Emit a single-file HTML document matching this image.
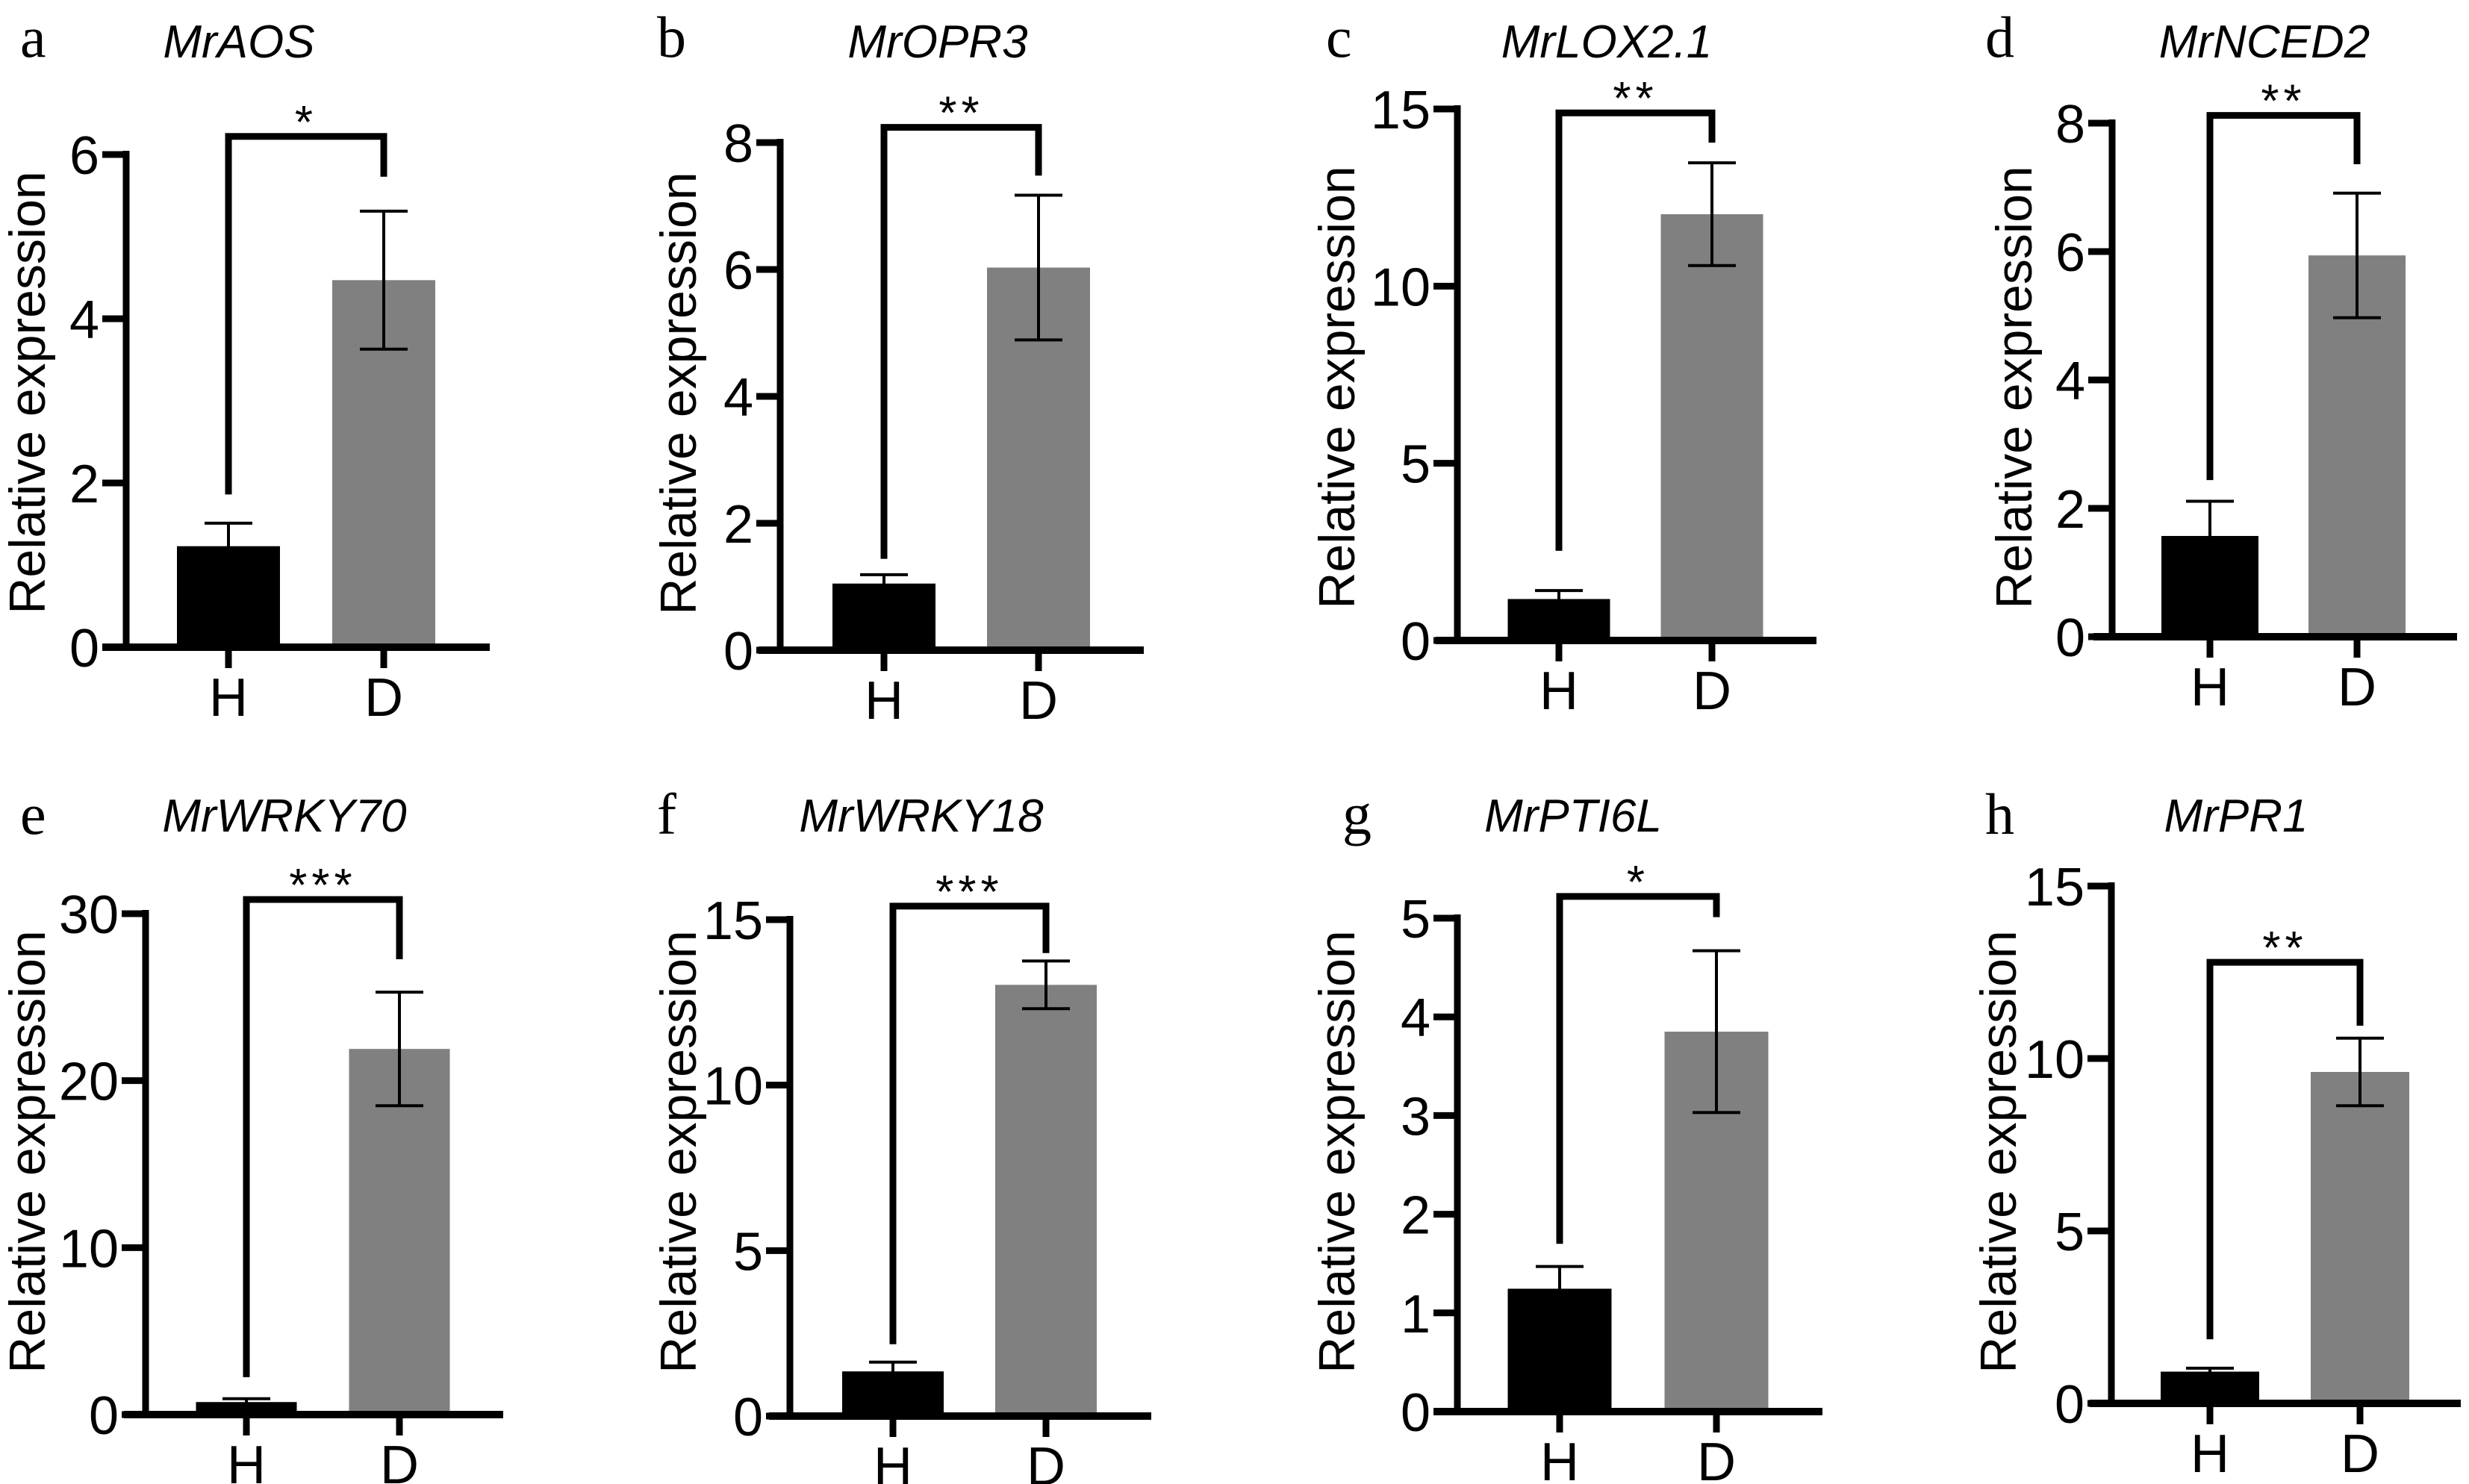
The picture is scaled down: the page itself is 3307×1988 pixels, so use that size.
<!DOCTYPE html>
<html><head><meta charset="utf-8"><style>
html,body{margin:0;padding:0;background:#fff;}
svg{display:block;}
</style></head><body>
<svg id="fig" xmlns="http://www.w3.org/2000/svg" width="3307" height="1988" viewBox="0 0 3307 1988"></svg>
<script>
// ---- data ----
const panelLetters = ["a","b","c","d","e","f","g","h"];
const genes = ["MrAOS","MrOPR3","MrLOX2.1","MrNCED2","MrWRKY70","MrWRKY18","MrPTI6L","MrPR1"];
const categories = ["H","D"];
const hValues = [1.23, 1.05, 1.17, 1.57, 0.75, 1.35, 1.245, 0.92];
const hErrors = [0.28, 0.14, 0.24, 0.54, 0.20, 0.28, 0.225, 0.10];
const dValues = [4.47, 6.03, 12.03, 5.94, 21.9, 13.03, 3.85, 9.61];
const dErrors = [0.84, 1.14, 1.45, 0.97, 3.4, 0.72, 0.82, 0.98];
const yMax = [6, 8, 15, 8, 30, 15, 5, 15];
const yStep = [2, 2, 5, 2, 10, 5, 1, 5];
const sigLabels = ["*","**","**","**","***","***","*","**"];
const bracketTop = [6.22, 8.24, 14.89, 8.12, 30.85, 15.41, 5.22, 12.79];
const bracketLeftEnd = [1.86, 1.44, 2.53, 2.44, 2.24, 2.17, 1.70, 1.86];
const bracketRightEnd = [5.73, 7.48, 14.05, 7.36, 27.27, 13.99, 5.01, 10.95];

// ---- layout (pixels) ----
const layout = [
 {ax:169, y0:867, yt:207, xs:137, xe:656, hc:306, dc:514, bw:138, lx:60, ly:526, tx:320, ty:77, px:27, py:76},
 {ax:1045,y0:871, yt:191, xs:1016,xe:1532,hc:1184,dc:1391,bw:138, lx:932, ly:527, tx:1256,ty:77, px:880, py:76},
 {ax:1952,y0:858, yt:146, xs:1923,xe:2433,hc:2088,dc:2293,bw:137, lx:1814,ly:519, tx:2152,ty:77, px:1776,py:76},
 {ax:2829,y0:853, yt:165, xs:2804,xe:3291,hc:2960,dc:3157,bw:130, lx:2721,ly:519, tx:3033,ty:77, px:2659,py:76},
 {ax:195, y0:1895,yt:1224,xs:166, xe:674, hc:330, dc:535, bw:135, lx:60, ly:1543,tx:381, ty:1114,px:27, py:1117},
 {ax:1058,y0:1897,yt:1232,xs:1030,xe:1542,hc:1196,dc:1401,bw:136, lx:932, ly:1543,tx:1234,ty:1114,px:880, py:1117},
 {ax:1952,y0:1891,yt:1230,xs:1920,xe:2441,hc:2089,dc:2299,bw:139, lx:1814,ly:1543,tx:2107,ty:1114,px:1798,py:1117},
 {ax:2828,y0:1880,yt:1187,xs:2799,xe:3296,hc:2960,dc:3161,bw:132, lx:2700,ly:1543,tx:2995,ty:1114,px:2659,py:1117}
];

const NS = "http://www.w3.org/2000/svg";
const svg = document.getElementById("fig");
function mk(tag, attrs, parent){
  const e = document.createElementNS(NS, tag);
  for (const k in attrs) e.setAttribute(k, attrs[k]);
  (parent||svg).appendChild(e);
  return e;
}
const SANS = "font-family:'Liberation Sans', Arial, sans-serif;";
const SERIF = "font-family:'Liberation Serif', 'Times New Roman', serif;";

for (let i = 0; i < genes.length; i++) {
  const L = layout[i];
  const yScale = v => L.y0 - (v / yMax[i]) * (L.y0 - L.yt);
  const g = mk("g", {});
  
  

  const pl = mk("text", {x:L.px, y:L.py, style:SERIF+"font-size:78px;", fill:"#000"}, g);
  pl.textContent = panelLetters[i];
  
  

  const t = mk("text", {x:L.tx, y:L.ty, style:SANS+"font-size:62px;font-style:italic;", "text-anchor":"middle", fill:"#000"}, g);
  t.textContent = genes[i];
  
  

  const vals = [hValues[i], dValues[i]];
  const errs = [hErrors[i], dErrors[i]];
  const cx = [L.hc, L.dc];
  const colors = ["#000000", "#808080"];
  for (let k = 0; k < 2; k++) {
    const top = yScale(vals[k]);
    const b = mk("rect", {x:cx[k]-L.bw/2, y:top, width:L.bw, height:L.y0-top, fill:colors[k]}, g);
    
    
    const eg = mk("g", {stroke:"#000", "stroke-width":4, fill:"none"}, g);
    
    
    const yh = yScale(vals[k] + errs[k]), yl = yScale(vals[k] - errs[k]);
    mk("line", {x1:cx[k], x2:cx[k], y1:yh, y2:yl}, eg);
    mk("line", {x1:cx[k]-32, x2:cx[k]+32, y1:yh, y2:yh}, eg);
    mk("line", {x1:cx[k]-32, x2:cx[k]+32, y1:yl, y2:yl}, eg);
  }

  const ya = mk("g", {}, g);
  
  
  mk("line", {x1:L.ax, x2:L.ax, y1:L.yt-5, y2:L.y0+5, stroke:"#000", "stroke-width":9}, ya);
  for (let v = 0; v <= yMax[i] + 1e-9; v += yStep[i]) {
    const y = yScale(v);
    mk("line", {x1:L.ax-32, x2:L.ax, y1:y, y2:y, stroke:"#000", "stroke-width":9}, ya);
    const tl = mk("text", {x:L.ax-36, y:y+26, style:SANS+"font-size:72px;", "text-anchor":"end", fill:"#000"}, ya);
    tl.textContent = String(v);
    
    
  }
  const yl = mk("text", {x:0, y:0, transform:`translate(${L.lx},${L.ly}) rotate(-90)`, style:SANS+"font-size:68px;", "text-anchor":"middle", fill:"#000"}, g);
  yl.textContent = "Relative expression";
  
  

  const xa = mk("g", {}, g);
  
  
  mk("line", {x1:L.xs, x2:L.xe, y1:L.y0, y2:L.y0, stroke:"#000", "stroke-width":10}, xa);
  for (let k = 0; k < 2; k++) {
    mk("line", {x1:cx[k], x2:cx[k], y1:L.y0, y2:L.y0+28, stroke:"#000", "stroke-width":9}, xa);
    const xl = mk("text", {x:cx[k], y:L.y0+92, style:SANS+"font-size:72px;", "text-anchor":"middle", fill:"#000"}, xa);
    xl.textContent = categories[k];
    
    
  }

  const bt = yScale(bracketTop[i]);
  const br = mk("path", {d:`M${L.hc},${yScale(bracketLeftEnd[i])} V${bt} H${L.dc} V${yScale(bracketRightEnd[i])}`, stroke:"#000", "stroke-width":9, fill:"none"}, g);
  
  
  const st = mk("text", {x:(L.hc+L.dc)/2, y:bt+2, style:SANS+"font-size:62px;letter-spacing:6px;", "text-anchor":"middle", fill:"#000"}, g);
  st.textContent = sigLabels[i];
  
  
}
</script>
</body></html>
